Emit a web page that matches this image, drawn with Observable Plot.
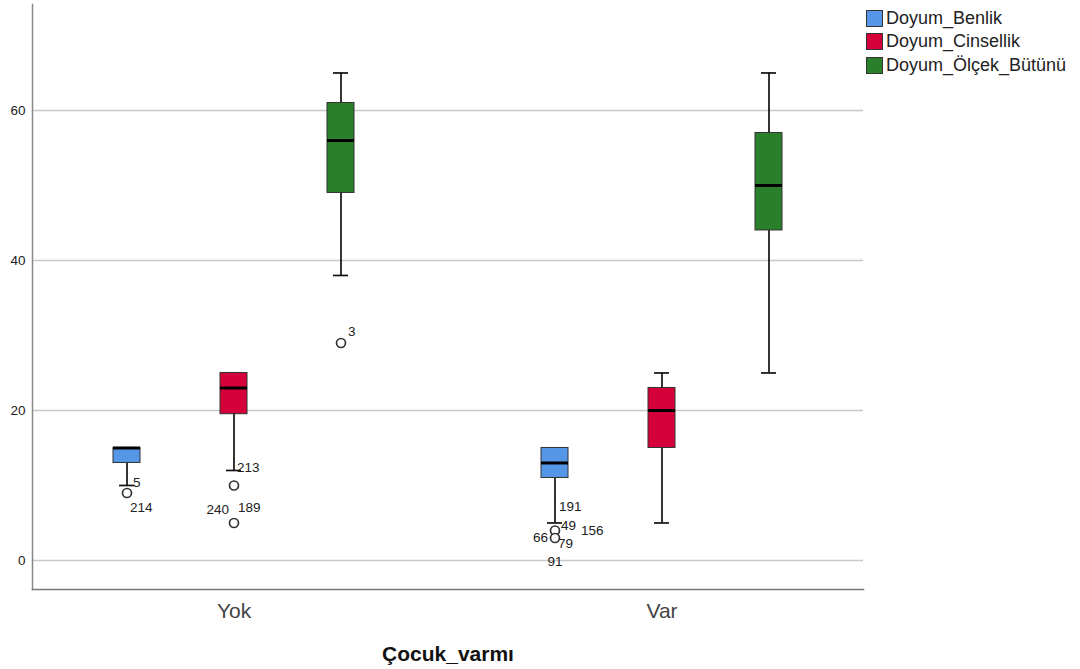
<!DOCTYPE html>
<html>
<head>
<meta charset="utf-8">
<script src="https://cdn.jsdelivr.net/npm/d3@7"></script>
<script src="https://cdn.jsdelivr.net/npm/@observablehq/plot@0.6"></script>
<style>
  html, body { margin: 0; padding: 0; background: #fff; }
  #wrap { position: relative; width: 1080px; height: 669px; font-family: "Liberation Sans", Arial, sans-serif; }
  #legend { position: absolute; left: 866px; top: 7px; font-size: 18px; color: #222; }
  .item { display: flex; align-items: center; height: 23.3px; }
  .sw { width: 15px; height: 15px; border: 1.5px solid #333; margin-right: 3px; box-sizing: content-box; }
</style>
</head>
<body>
<div id="wrap">
  <div id="chart"></div>
  <div id="legend"></div>
</div>
<script>
// ---- data ----
const groups = ["Yok", "Var"];
const series = ["Doyum_Benlik", "Doyum_Cinsellik", "Doyum_Ölçek_Bütünü"];
const colors = ["#5596e6", "#d5003a", "#2a7f2a"];
// per group (rows) and series (columns)
const lowWhisker  = [[10, 12, 38], [5, 5, 25]];
const q1          = [[13, 19.5, 49], [11, 15, 44]];
const median      = [[15, 23, 56], [13, 20, 50]];
const q3          = [[15, 25, 61], [15, 23, 57]];
const highWhisker = [[15, 25, 65], [15, 25, 65]];

const outlierGroup  = ["Yok", "Yok", "Yok", "Yok", "Var", "Var"];
const outlierSeries = ["Doyum_Benlik", "Doyum_Cinsellik", "Doyum_Cinsellik", "Doyum_Ölçek_Bütünü", "Doyum_Benlik", "Doyum_Benlik"];
const outlierValue  = [9, 10, 5, 29, 4, 3];

const labelText   = ["5", "214", "213", "240", "189", "3", "191", "49", "156", "66", "79", "91"];
const labelGroup  = ["Yok", "Yok", "Yok", "Yok", "Yok", "Yok", "Var", "Var", "Var", "Var", "Var", "Var"];
const labelSeries = ["Doyum_Benlik", "Doyum_Benlik", "Doyum_Cinsellik", "Doyum_Cinsellik", "Doyum_Cinsellik", "Doyum_Ölçek_Bütünü",
                     "Doyum_Benlik", "Doyum_Benlik", "Doyum_Benlik", "Doyum_Benlik", "Doyum_Benlik", "Doyum_Benlik"];
const labelValue  = [9, 9, 10, 5, 5, 29, 4, 4, 4, 3, 3, 3];

const yTicks = [0, 20, 40, 60];
const yDomain = [-3.87, 74.13];
const xTitle = "Çocuk_varmı";

// ---- styling of case labels (placement nudges) ----
const labelNudge = [
  [6, -10, "start"], [3, 15, "start"], [3, -18, "start"], [-5, -13, "end"], [4, -15, "start"], [7, -11, "start"],
  [4, -24, "start"], [6, -5, "start"], [26, 0, "start"], [-7, 0, "end"], [3, 6, "start"], [0, 24, "middle"]
];

// ---- build tables ----
const key = (g, s) => g + "|" + s;
const boxes = groups.flatMap((g, gi) => series.map((s, si) => ({
  key: key(g, s), series: s,
  lo: lowWhisker[gi][si], q1: q1[gi][si], med: median[gi][si], q3: q3[gi][si], hi: highWhisker[gi][si]
})));
const outliers = outlierValue.map((v, i) => ({key: key(outlierGroup[i], outlierSeries[i]), value: v}));
const labels = labelText.map((t, i) => ({key: key(labelGroup[i], labelSeries[i]), value: labelValue[i], text: t}));

const xDomain = [...series.map(s => key(groups[0], s)), "gap", ...series.map(s => key(groups[1], s))];
const groupTicks = groups.map(g => key(g, series[1]));

const chart = Plot.plot({
  width: 1080,
  height: 669,
  marginLeft: 32,
  marginRight: 217,
  marginTop: 4,
  marginBottom: 80,
  style: {fontFamily: "Liberation Sans, Arial, sans-serif", background: "#fff", color: "#222"},
  x: {domain: xDomain, paddingInner: 0.749, paddingOuter: 0.73},
  y: {domain: yDomain},
  color: {domain: series, range: colors},
  marks: [
    Plot.gridY(yTicks, {stroke: "#c8c8c8", strokeWidth: 1.5, strokeOpacity: 1}),
    Plot.axisY({ticks: yTicks, tickSize: 0, tickPadding: 7, fontSize: 13.5, label: null}),
    Plot.axisX({ticks: groupTicks, tickFormat: d => d.split("|")[0], tickSize: 0, tickPadding: 14, fontSize: 21, fill: "#444", label: null}),
    Plot.frame({anchor: "left", stroke: "#888", strokeWidth: 1.5}),
    Plot.frame({anchor: "bottom", stroke: "#777", strokeWidth: 1.5}),
    Plot.ruleX(boxes, {x: "key", y1: "lo", y2: "hi", stroke: "#111", strokeWidth: 1.7}),
    Plot.tickY(boxes, {x: "key", y: "lo", insetLeft: 6, insetRight: 6, stroke: "#111", strokeWidth: 1.7}),
    Plot.tickY(boxes, {x: "key", y: "hi", insetLeft: 6, insetRight: 6, stroke: "#111", strokeWidth: 1.7}),
    Plot.barY(boxes, {x: "key", y1: "q1", y2: "q3", fill: "series", stroke: "#333", strokeWidth: 1}),
    Plot.tickY(boxes, {x: "key", y: "med", stroke: "#000", strokeWidth: 3}),
    Plot.dot(outliers, {x: "key", y: "value", r: 4.5, stroke: "#333", strokeWidth: 1.7, fill: "#fff"}),
    ...labels.map((l, i) => Plot.text([l], {
      x: "key", y: "value", text: "text", dx: labelNudge[i][0], dy: labelNudge[i][1],
      textAnchor: labelNudge[i][2], fontSize: 13.5, fill: "#222"
    })),
    Plot.text([xTitle], {text: d => d, frameAnchor: "bottom", dy: 71, fontSize: 21, fontWeight: "bold", fill: "#111"})
  ]
});
document.getElementById("chart").appendChild(chart);

const legend = document.getElementById("legend");
series.forEach((s, i) => {
  const item = document.createElement("div");
  item.className = "item";
  const sw = document.createElement("span");
  sw.className = "sw";
  sw.style.background = colors[i];
  const tx = document.createElement("span");
  tx.textContent = s;
  item.appendChild(sw);
  item.appendChild(tx);
  legend.appendChild(item);
});
</script>
</body>
</html>
